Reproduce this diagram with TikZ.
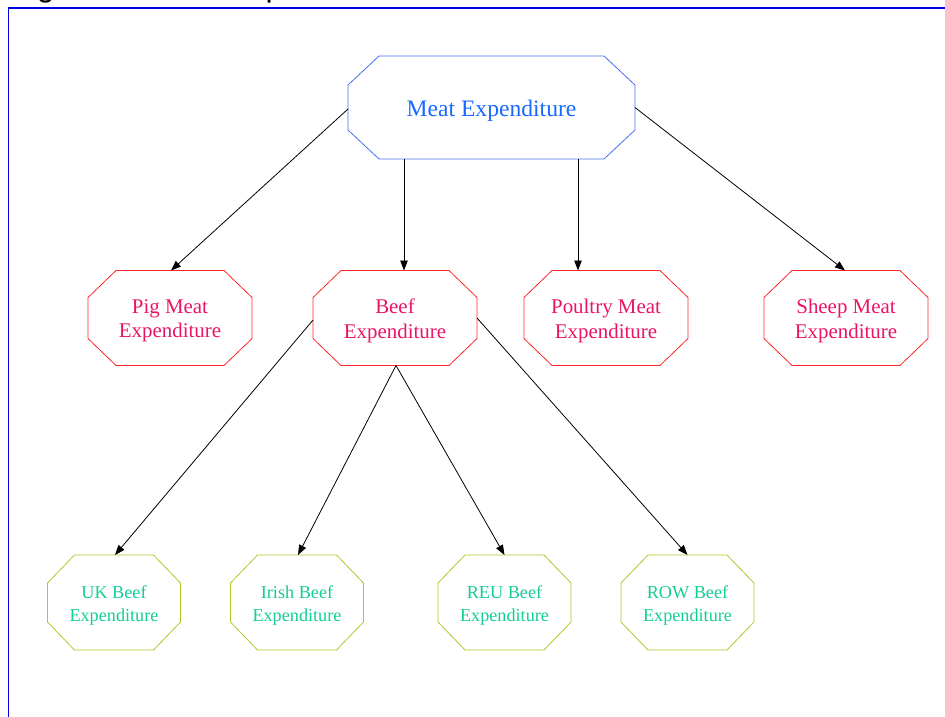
\documentclass[tikz,border=0pt]{standalone}
\usepackage{fontspec}
\setmainfont{Liberation Serif}
\newfontfamily\captionfont{Liberation Sans}
\usetikzlibrary{arrows.meta}
\definecolor{topline}{RGB}{70,110,240}
\definecolor{toptext}{RGB}{25,105,255}
\definecolor{midline}{RGB}{255,40,40}
\definecolor{midtext}{RGB}{235,20,100}
\definecolor{lowline}{RGB}{165,205,40}
\definecolor{lowtext}{RGB}{20,205,150}
\definecolor{framecol}{RGB}{0,0,235}
\tikzset{
  frame/.style={inner sep=0pt, outer sep=0pt},
  label/.style={inner sep=0pt, align=center},
  topline/.style={draw=topline, line width=0.8pt},
  toptext/.style={label, text=toptext, font=\fontsize{23.6}{28}\selectfont},
  midline/.style={draw=midline, line width=0.8pt},
  midtext/.style={label, text=midtext, font=\fontsize{20.9}{24.5}\selectfont},
  lowline/.style={draw=lowline, line width=0.8pt},
  lowtext/.style={label, text=lowtext, font=\fontsize{18.2}{22.5}\selectfont},
  link/.style={draw=black, line width=0.8pt, -{Triangle[length=10pt,width=7.5pt]}},
}
% #1 kind, #2 name, #3 cx, #4 cy, #5 w, #6 h, #7 cut x, #8 cut y, #9 text
\newcommand\octbox[9]{%
  \node[frame, minimum width=#5pt, minimum height=#6pt] (#2) at (#3,#4) {};
  \draw[#1line] ({#3-#5/2+#7},{#4-#6/2}) -- ({#3+#5/2-#7},{#4-#6/2})
    -- ({#3+#5/2},{#4-#6/2+#8}) -- ({#3+#5/2},{#4+#6/2-#8})
    -- ({#3+#5/2-#7},{#4+#6/2}) -- ({#3-#5/2+#7},{#4+#6/2})
    -- ({#3-#5/2},{#4+#6/2-#8}) -- ({#3-#5/2},{#4-#6/2+#8}) -- cycle;
  \node[#1text] (#2-label) at (#3,#4+3) {#9};
}
\begin{document}
\begin{tikzpicture}[x=1pt,y=-1pt]
\useasboundingbox (0,0) rectangle (945,716);
\coordinate (fbl) at (8.5,760);
\coordinate (ftl) at (8.5,7.8);
\coordinate (ftr) at (980,7.8);
\draw[framecol, line width=1.6pt] (fbl) -- (ftl) -- (ftr);
\node[anchor=base west, inner sep=0pt, font=\captionfont\fontsize{32}{36}\selectfont] (cap) at (10,-3.5) {Figure 1: Meat Expenditure Tree};

\octbox{top}{meat}{491.5}{107.5}{287}{103}{31}{29}{Meat Expenditure}

\octbox{mid}{pig}{170}{318}{164}{95}{28}{27}{Pig Meat\\Expenditure}
\octbox{mid}{beef}{395}{318}{164}{95}{28}{27}{Beef\\Expenditure}
\octbox{mid}{poultry}{606}{318}{164}{95}{28}{27}{Poultry Meat\\Expenditure}
\octbox{mid}{sheep}{846}{318}{164}{95}{28}{27}{Sheep Meat\\Expenditure}

\octbox{low}{uk}{114}{602.5}{133}{95}{27}{28}{UK Beef\\Expenditure}
\octbox{low}{irish}{297}{602.5}{133}{95}{27}{28}{Irish Beef\\Expenditure}
\octbox{low}{reu}{504.5}{602.5}{133}{95}{27}{28}{REU Beef\\Expenditure}
\octbox{low}{row}{687.5}{602.5}{133}{95}{27}{28}{ROW Beef\\Expenditure}

\draw[link] ([yshift=-1.5pt]meat.west) -- ([xshift=1pt]pig.north);
\draw[link] ([xshift=-87.5pt]meat.south) -- ([xshift=9pt]beef.north);
\draw[link] ([xshift=86.5pt]meat.south) -- ([xshift=-28pt]poultry.north);
\draw[link] (meat.east) -- ([xshift=-1pt]sheep.north);

\draw[link] ([yshift=-2pt]beef.west) -- ([xshift=1pt]uk.north);
\draw[link] ([xshift=1pt]beef.south) -- ([xshift=1pt]irish.north);
\draw[link] ([xshift=1pt]beef.south) -- (reu.north);
\draw[link] (beef.east) -- (row.north);
\end{tikzpicture}
\end{document}
